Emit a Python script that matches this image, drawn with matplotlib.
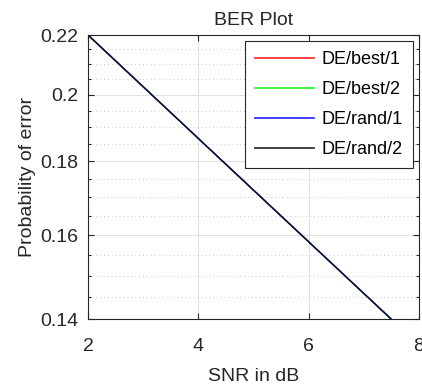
import numpy as np
import matplotlib
matplotlib.use('Agg')
import matplotlib.pyplot as plt
from matplotlib.ticker import FixedLocator, FuncFormatter, NullFormatter

plt.rcParams['font.family'] = ['Liberation Sans', 'DejaVu Sans']

# data (all four curves lie on top of each other)
snr = [2, 4, 6, 8]
ber_best1 = [0.22, 0.1866, 0.1583, 0.1343]
ber_best2 = [0.22, 0.1866, 0.1583, 0.1343]
ber_rand1 = [0.22, 0.1866, 0.1583, 0.1343]
ber_rand2 = [0.22, 0.1866, 0.1583, 0.1343]
names = ['DE/best/1', 'DE/best/2', 'DE/rand/1', 'DE/rand/2']
yticks = [0.14, 0.16, 0.18, 0.2, 0.22]

fig = plt.figure(figsize=(4.22, 3.90), dpi=100)
ax = fig.add_axes([88/422, 1-319/390, (419-88)/422, (319-35)/390])

ax.semilogy(snr, ber_best1, color='#ff3030', lw=1.0, label=names[0])
ax.semilogy(snr, ber_best2, color='#30f030', lw=1.0, label=names[1])
ax.semilogy(snr, ber_rand1, color='#3030ff', lw=1.0, label=names[2])
ax.semilogy(snr, ber_rand2, color='#0a0f2e', lw=1.0, label=names[3])

ax.set_xlim(2, 8)
ax.set_ylim(0.14, 0.22)
ax.set_xticks([2, 4, 6, 8])
ax.yaxis.set_major_locator(FixedLocator(yticks))
ax.yaxis.set_major_formatter(FuncFormatter(lambda v, p: '%g' % v))
ax.yaxis.set_minor_locator(FixedLocator(np.arange(0.145, 0.22, 0.005)))
ax.yaxis.set_minor_formatter(NullFormatter())

ax.grid(True, which='major', color='#e0e0e0', lw=0.8, ls='-')
ax.grid(True, which='minor', axis='y', color='#c8c8c8', lw=0.7, ls=(0, (1, 3)))
ax.set_axisbelow(True)

ax.tick_params(which='both', direction='in', top=True, right=True, labelsize=14, colors='#262626')
ax.tick_params(which='major', length=4, width=0.8)
ax.tick_params(which='minor', length=2.5, width=0.8)
ax.tick_params(axis='x', pad=14)
ax.tick_params(axis='y', pad=7)
for s in ax.spines.values():
    s.set_color('#262626')
    s.set_linewidth(0.8)

ax.set_title('BER Plot', fontsize=14, color='#262626', pad=7)
ax.set_xlabel('SNR in dB', fontsize=14, color='#262626', labelpad=9)
ax.set_ylabel('Probability of error', fontsize=14, color='#262626', labelpad=3)

leg = ax.legend(loc='upper right', fontsize=13, fancybox=False, framealpha=1,
                edgecolor='#262626', handlelength=3.3, borderaxespad=0.35,
                labelspacing=0.72, handletextpad=0.4, borderpad=0.55)
leg.get_frame().set_linewidth(0.8)
for h in leg.get_lines():
    h.set_linewidth(1.3)
leg.get_lines()[3].set_color('#333333')

fig.savefig('out.png', dpi=100)
